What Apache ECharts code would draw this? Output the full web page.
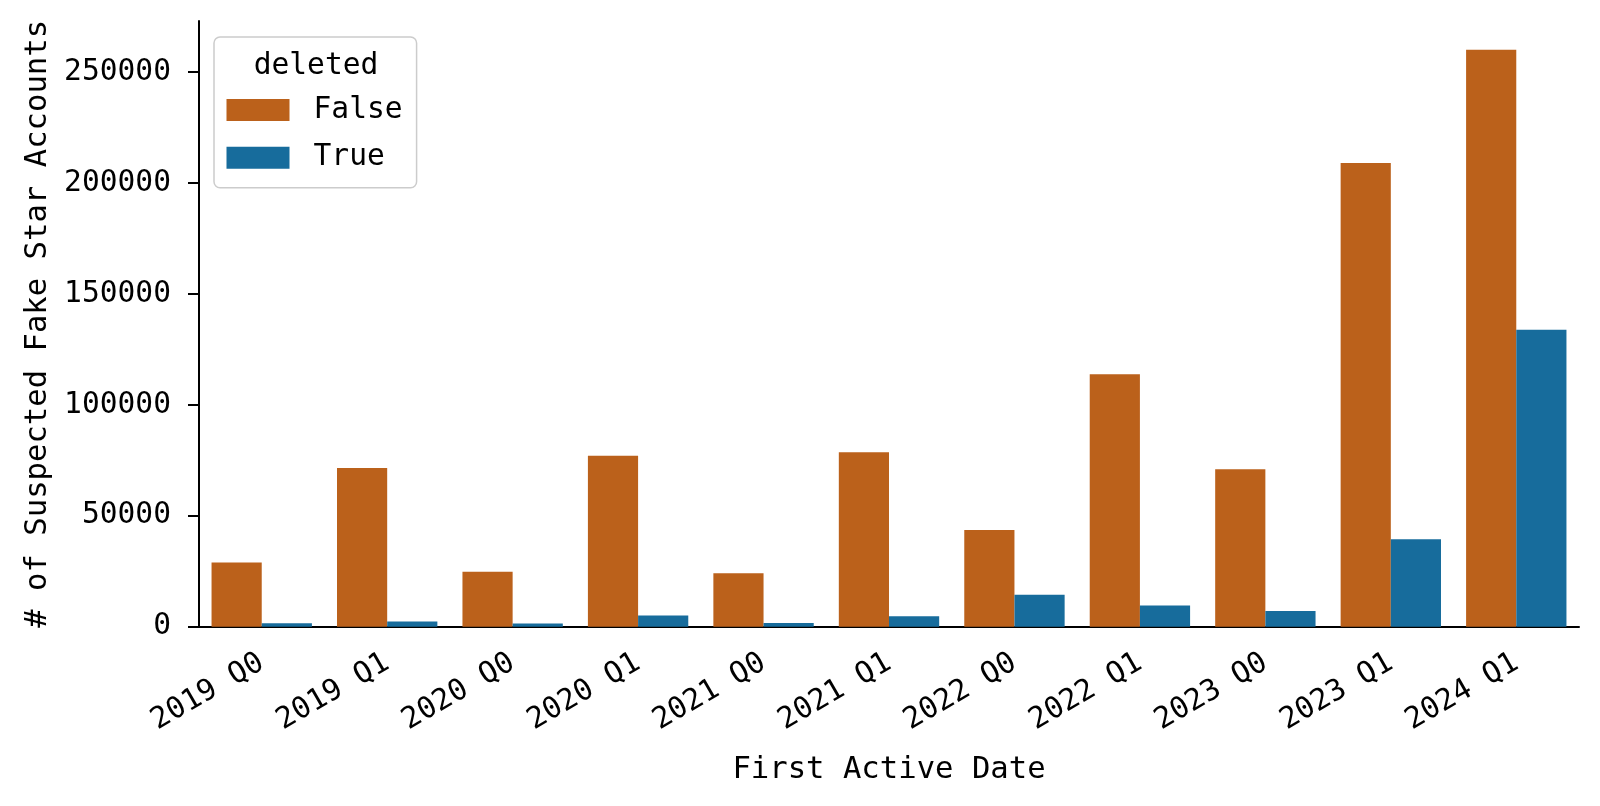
<!DOCTYPE html>
<html>
<head>
<meta charset="utf-8">
<script src="https://cdn.jsdelivr.net/npm/echarts@6/dist/echarts.min.js"></script>
<style>
html,body{margin:0;padding:0;background:#fff;}
#chart{width:1600px;height:806px;}
</style>
</head>
<body>
<div id="chart"></div>
<script>
const categories = ['2019 Q0','2019 Q1','2020 Q0','2020 Q1','2021 Q0','2021 Q1','2022 Q0','2022 Q1','2023 Q0','2023 Q1','2024 Q1'];
const falseValues = [28900, 71500, 24800, 77000, 24100, 78600, 43600, 113800, 71000, 209000, 260000];
const trueValues = [1500, 2400, 1400, 5000, 1700, 4700, 14400, 9600, 7100, 39400, 133800];
const seriesNames = ['False', 'True'];
const legendTitle = 'deleted';
const xTitle = 'First Active Date';
const yTitle = '# of Suspected Fake Star Accounts';

const FONT = "'DejaVu Sans Mono', monospace";
const chart = echarts.init(document.getElementById('chart'), null, {renderer: 'canvas'});
chart.setOption({
  animation: false,
  backgroundColor: '#ffffff',
  grid: {left: 199, right: 21, top: 21, bottom: 179.3, containLabel: false},
  legend: {
    data: seriesNames,
    orient: 'vertical',
    left: 214, top: 37,
    padding: [58, 14, 15, 12.5],
    itemWidth: 63, itemHeight: 22, itemGap: 17.75,
    backgroundColor: 'rgba(255,255,255,0.8)',
    borderColor: '#cccccc', borderWidth: 1.5, borderRadius: 6,
    icon: 'rect',
    textStyle: {fontFamily: FONT, fontSize: 29.6, color: '#000', lineHeight: 22, padding: [0,0,0,19]}
  },
  graphic: [{
    type: 'text', x: 316, y: 66, z: 100, zlevel: 1,
    style: {text: legendTitle, font: '29.6px ' + FONT, fill: '#000', align: 'center', verticalAlign: 'middle'}
  }],
  xAxis: {
    type: 'category',
    data: categories,
    name: xTitle,
    nameLocation: 'middle',
    nameGap: 128,
    nameTextStyle: {fontFamily: FONT, fontSize: 30.6, color: '#000'},
    axisLine: {lineStyle: {color: '#000', width: 2}},
    axisTick: {alignWithLabel: true, length: 11, lineStyle: {color: '#000', width: 2}},
    axisLabel: {rotate: 30, fontFamily: FONT, fontSize: 29.6, color: '#000', margin: 34, interval: 0}
  },
  yAxis: {
    type: 'value',
    min: 0, max: 273000, interval: 50000,
    name: yTitle,
    nameLocation: 'middle',
    nameGap: 135,
    nameTextStyle: {fontFamily: FONT, fontSize: 30.6, color: '#000'},
    axisLine: {show: true, lineStyle: {color: '#000', width: 2}},
    axisTick: {show: true, length: 11, lineStyle: {color: '#000', width: 2}},
    axisLabel: {fontFamily: FONT, fontSize: 29.6, color: '#000', margin: 28, showMaxLabel: false,
      formatter: function (v) { return String(v); }},
    splitLine: {show: false}
  },
  series: [
    {name: seriesNames[0], type: 'bar', data: falseValues, barWidth: '40%', barGap: '0%',
     itemStyle: {color: '#BB611B'}},
    {name: seriesNames[1], type: 'bar', data: trueValues, barWidth: '40%', barGap: '0%',
     itemStyle: {color: '#176C9C'}}
  ]
});
</script>
</body>
</html>
